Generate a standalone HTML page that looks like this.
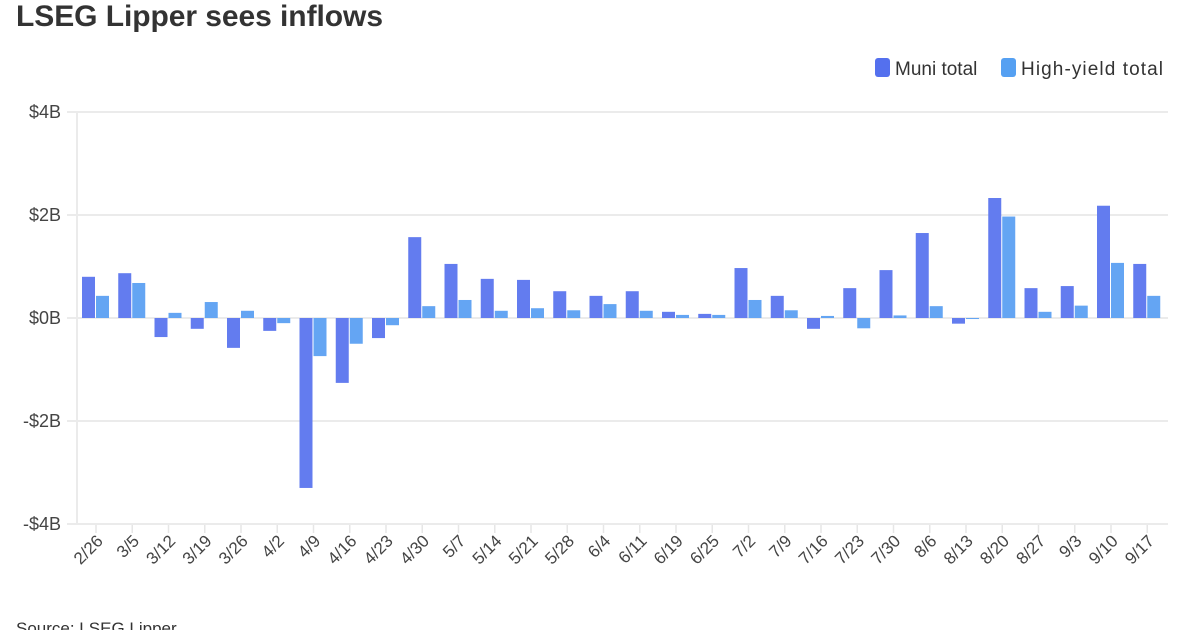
<!DOCTYPE html>
<html><head><meta charset="utf-8"><style>
body{margin:0;background:#fff;}
svg{display:block;font-family:"Liberation Sans",sans-serif;}
</style></head><body>
<svg width="1200" height="630" xmlns="http://www.w3.org/2000/svg">
<text x="16" y="26" font-size="30" font-weight="bold" fill="#333" textLength="367">LSEG Lipper sees inflows</text>
<rect x="875" y="58" width="15" height="19" rx="3" fill="#5470ee"/>
<text x="895" y="75" font-size="19" fill="#333">Muni total</text>
<rect x="1001" y="58" width="15" height="19" rx="3" fill="#55a0f2"/>
<text x="1021" y="75" font-size="19" fill="#333" textLength="142">High-yield total</text>
<g stroke="#ebebeb" stroke-width="2">
<line x1="67" y1="112" x2="1168" y2="112"/>
<line x1="67" y1="215" x2="1168" y2="215"/>
<line x1="67" y1="318" x2="1168" y2="318"/>
<line x1="67" y1="421" x2="1168" y2="421"/>
<line x1="67" y1="524" x2="1168" y2="524"/>
<line x1="77" y1="112" x2="77" y2="524"/>
</g>
<g font-size="18" fill="#444" text-anchor="end">
<text x="61" y="118">$4B</text>
<text x="61" y="221">$2B</text>
<text x="61" y="324">$0B</text>
<text x="61" y="427">-$2B</text>
<text x="61" y="530">-$4B</text>
</g>
<g id="bars"></g>
<g id="ticks" stroke="#e6e6e6" stroke-width="1.5"></g>
<g id="labels" font-size="17" fill="#444" text-anchor="end"></g>
<text x="16" y="634" font-size="17" fill="#333">Source: LSEG Lipper</text>
<script>
var d=[["2/26",.80,.43],["3/5",.87,.68],["3/12",-.37,.10],["3/19",-.21,.31],["3/26",-.58,.14],["4/2",-.25,-.10],["4/9",-3.3,-.74],["4/16",-1.26,-.5],["4/23",-.39,-.14],["4/30",1.57,.23],["5/7",1.05,.35],["5/14",.76,.14],["5/21",.74,.19],["5/28",.52,.15],["6/4",.43,.27],["6/11",.52,.14],["6/19",.12,.06],["6/25",.08,.06],["7/2",.97,.35],["7/9",.43,.15],["7/16",-.21,.04],["7/23",.58,-.2],["7/30",.93,.05],["8/6",1.65,.23],["8/13",-.11,-.02],["8/20",2.33,1.97],["8/27",.58,.12],["9/3",.62,.24],["9/10",2.18,1.07],["9/17",1.05,.43]];
var ns="http://www.w3.org/2000/svg",b=document.getElementById("bars"),t=document.getElementById("ticks"),l=document.getElementById("labels");
function r(x,v,c){var e=document.createElementNS(ns,"rect");var y0=318,y1=318-v*51.5;e.setAttribute("x",x);e.setAttribute("width",13);e.setAttribute("y",Math.min(y0,y1));e.setAttribute("height",Math.max(1,Math.abs(y1-y0)));e.setAttribute("fill",c);b.appendChild(e);}
d.forEach(function(a,i){var s=78+i*36.25;r(s+4,a[1],"#637cef");r(s+18,a[2],"#64a5f3");
var c=s+18;var ln=document.createElementNS(ns,"line");ln.setAttribute("x1",c);ln.setAttribute("x2",c);ln.setAttribute("y1",525);ln.setAttribute("y2",533);t.appendChild(ln);
var tx=document.createElementNS(ns,"text");tx.setAttribute("transform","translate("+(c+8)+",542) rotate(-45)");tx.textContent=a[0];l.appendChild(tx);});
</script>
</svg>
</body></html>
